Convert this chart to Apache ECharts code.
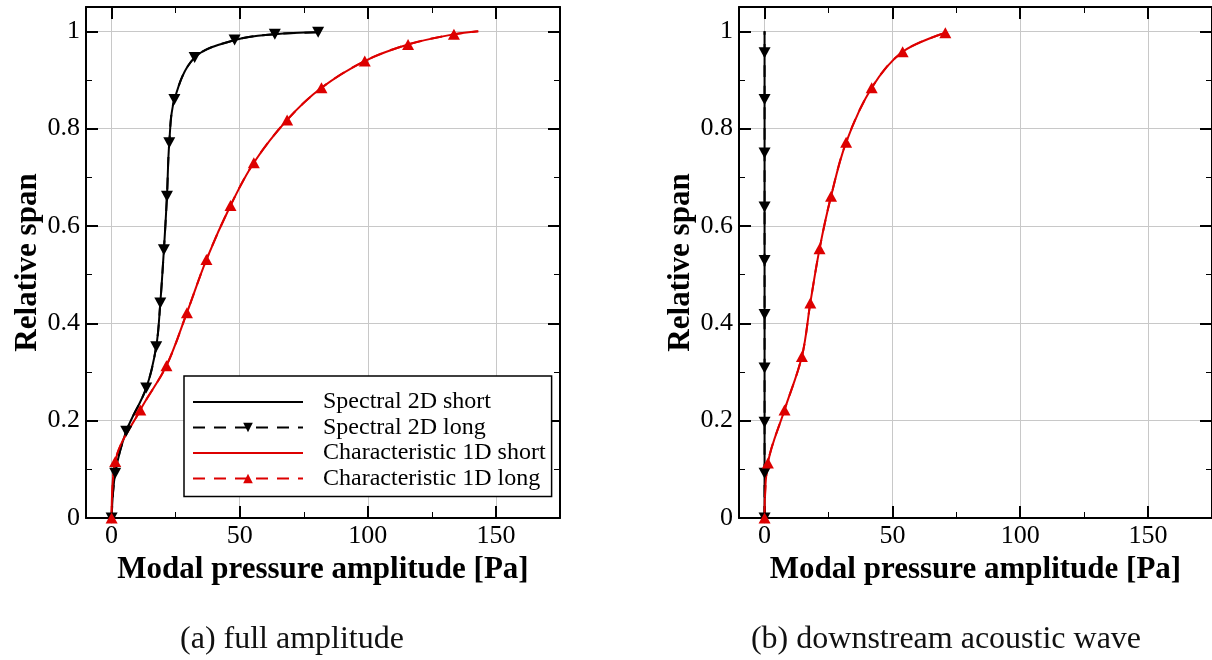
<!DOCTYPE html>
<html>
<head>
<meta charset="utf-8">
<script src="https://cdn.jsdelivr.net/npm/echarts@6/dist/echarts.min.js"></script>
<style>
html,body{margin:0;padding:0;background:#fff;}
#chart{width:1212px;height:660px;}
</style>
</head>
<body>
<div id="chart"></div>
<script>
// ---------- data ----------
const seriesNames = ['Spectral 2D short', 'Spectral 2D long', 'Characteristic 1D short', 'Characteristic 1D long'];
const captions = ['(a) full amplitude', '(b) downstream acoustic wave'];
const xAxisTitle = 'Modal pressure amplitude [Pa]';
const yAxisTitle = 'Relative span';

const xMajorTicks = [0, 50, 100, 150];
const xMinorTicks = [25, 75, 125];
const yMajorTicks = [0, 0.2, 0.4, 0.6, 0.8, 1];
const yMinorTicks = [0.1, 0.3, 0.5, 0.7, 0.9];

// (a) full amplitude
const aSpectralAmp  = [0, 1.4, 5.7, 13.5, 17.4, 19.0, 20.4, 21.6, 22.5, 24.5, 32.4, 48.0, 63.7, 80.6];
const aSpectralSpan = [0, 0.092, 0.178, 0.267, 0.352, 0.442, 0.551, 0.661, 0.771, 0.860, 0.946, 0.982, 0.994, 0.998];
const aCharAmp  = [0, 1.4, 11.2, 21.4, 29.4, 37.0, 46.4, 55.5, 68.5, 81.9, 98.8, 115.7, 133.6, 143.1];
const aCharSpan = [0, 0.116, 0.222, 0.313, 0.422, 0.531, 0.642, 0.730, 0.818, 0.884, 0.939, 0.973, 0.994, 1.0];
const aCharMarkerless = [13]; // line end without marker

// (b) downstream acoustic wave
const bSpectralAmp  = [0, 0, 0, 0, 0, 0, 0, 0, 0, 0, 0];
const bSpectralSpan = [0, 0.092, 0.197, 0.308, 0.418, 0.529, 0.639, 0.750, 0.860, 0.956, 1.0];
const bSpectralMarkerless = [10];
const bCharAmp  = [0, 1.3, 7.8, 14.6, 17.9, 21.5, 26.0, 31.9, 41.9, 54.0, 70.7];
const bCharSpan = [0, 0.113, 0.222, 0.332, 0.442, 0.553, 0.661, 0.772, 0.884, 0.958, 0.997];

// ---------- helpers ----------
const SERIF = 'Liberation Serif';
const RED = '#dd0000';
const GRIDS = [{left: 86, top: 7, width: 474, height: 511}, {left: 739, top: 7, width: 474, height: 511}];
const X_MIN = -10, X_MAX = 175, Y_MIN = 0, Y_MAX = 1.05;

function pairs(xs, ys, markerless) {
  return xs.map((x, i) => (markerless && markerless.indexOf(i) >= 0) ? {value: [x, ys[i]], symbol: 'none'} : [x, ys[i]]);
}

const xAxes = [], yAxes = [];
function addAxes(g) {
  const common = {type: 'value', gridIndex: g, axisPointer: {show: false}};
  xAxes.push(Object.assign({}, common, {
    min: X_MIN, max: X_MAX, position: 'bottom',
    name: xAxisTitle, nameLocation: 'middle', nameGap: 36,
    nameTextStyle: {fontFamily: SERIF, fontWeight: 'bold', fontSize: 31, color: '#000'},
    axisLine: {show: true, onZero: false, lineStyle: {color: '#000', width: 2}},
    axisTick: {show: true, inside: true, length: 12, customValues: xMajorTicks, lineStyle: {color: '#000', width: 2}},
    axisLabel: {show: true, customValues: xMajorTicks, margin: 5, fontFamily: SERIF, fontSize: 26, color: '#000'},
    splitLine: {show: true, lineStyle: {color: '#c8c8c8', width: 1}}
  }));
  xAxes.push(Object.assign({}, common, {
    min: X_MIN, max: X_MAX, position: 'bottom',
    axisLine: {show: false, onZero: false},
    axisTick: {show: true, inside: true, length: 6, customValues: xMinorTicks, lineStyle: {color: '#000', width: 1}},
    axisLabel: {show: false}, splitLine: {show: false}
  }));
  xAxes.push(Object.assign({}, common, {
    min: X_MIN, max: X_MAX, position: 'top',
    axisLine: {show: true, onZero: false, lineStyle: {color: '#000', width: 2}},
    axisTick: {show: true, inside: true, length: 12, customValues: xMajorTicks, lineStyle: {color: '#000', width: 2}},
    axisLabel: {show: false}, splitLine: {show: false}
  }));
  xAxes.push(Object.assign({}, common, {
    min: X_MIN, max: X_MAX, position: 'top',
    axisLine: {show: false, onZero: false},
    axisTick: {show: true, inside: true, length: 6, customValues: xMinorTicks, lineStyle: {color: '#000', width: 1}},
    axisLabel: {show: false}, splitLine: {show: false}
  }));
  yAxes.push(Object.assign({}, common, {
    min: Y_MIN, max: Y_MAX, position: 'left',
    name: yAxisTitle, nameLocation: 'middle', nameGap: 39,
    nameTextStyle: {fontFamily: SERIF, fontWeight: 'bold', fontSize: 31, color: '#000'},
    axisLine: {show: true, onZero: false, lineStyle: {color: '#000', width: 2}},
    axisTick: {show: true, inside: true, length: 12, customValues: yMajorTicks, lineStyle: {color: '#000', width: 2}},
    axisLabel: {show: true, customValues: yMajorTicks, margin: 6, fontFamily: SERIF, fontSize: 26, color: '#000', padding: [5, 0, 0, 0]},
    splitLine: {show: true, lineStyle: {color: '#c8c8c8', width: 1}}
  }));
  yAxes.push(Object.assign({}, common, {
    min: Y_MIN, max: Y_MAX, position: 'left',
    axisLine: {show: false, onZero: false},
    axisTick: {show: true, inside: true, length: 6, customValues: yMinorTicks, lineStyle: {color: '#000', width: 1}},
    axisLabel: {show: false}, splitLine: {show: false}
  }));
  yAxes.push(Object.assign({}, common, {
    min: Y_MIN, max: Y_MAX, position: 'right',
    axisLine: {show: true, onZero: false, lineStyle: {color: '#000', width: 2}},
    axisTick: {show: true, inside: true, length: 12, customValues: yMajorTicks, lineStyle: {color: '#000', width: 2}},
    axisLabel: {show: false}, splitLine: {show: false}
  }));
  yAxes.push(Object.assign({}, common, {
    min: Y_MIN, max: Y_MAX, position: 'right',
    axisLine: {show: false, onZero: false},
    axisTick: {show: true, inside: true, length: 6, customValues: yMinorTicks, lineStyle: {color: '#000', width: 1}},
    axisLabel: {show: false}, splitLine: {show: false}
  }));
}
addAxes(0);
addAxes(1);

function lineSeries(name, g, data, color, withMarkers, down) {
  const s = {
    name: name, type: 'line', xAxisIndex: g * 4, yAxisIndex: g * 4,
    data: data, smooth: 0.35, clip: false,
    lineStyle: {color: color, width: 2, type: withMarkers ? [12, 9] : 'solid'},
    itemStyle: {color: color},
    emphasis: {disabled: true},
    z: withMarkers ? 4 : 3
  };
  if (withMarkers) {
    s.symbol = 'triangle';
    s.symbolSize = [12, 11];
    s.symbolRotate = down ? 180 : 0;
    s.showSymbol = true;
  } else {
    s.symbol = 'none';
    s.showSymbol = false;
  }
  return s;
}

const aSpec = pairs(aSpectralAmp, aSpectralSpan);
const aChar = pairs(aCharAmp, aCharSpan, aCharMarkerless);
const bSpec = pairs(bSpectralAmp, bSpectralSpan, bSpectralMarkerless);
const bChar = pairs(bCharAmp, bCharSpan);

const series = [
  lineSeries(seriesNames[0], 0, aSpec, '#000', false),
  lineSeries(seriesNames[2], 0, aChar, RED, false),
  lineSeries(seriesNames[1], 0, aSpec, '#000', true, true),
  lineSeries(seriesNames[3], 0, aChar, RED, true, false),
  lineSeries(seriesNames[0], 1, bSpec, '#000', false),
  lineSeries(seriesNames[2], 1, bChar, RED, false),
  lineSeries(seriesNames[1], 1, bSpec, '#000', true, true),
  lineSeries(seriesNames[3], 1, bChar, RED, true, false)
];

const hiddenSymbol = {color: 'rgba(0,0,0,0)', borderColor: 'rgba(0,0,0,0)', borderWidth: 0, opacity: 0};

const option = {
  animation: false,
  backgroundColor: '#fff',
  grid: GRIDS.map(g => Object.assign({containLabel: false}, g)),
  xAxis: xAxes,
  yAxis: yAxes,
  title: [
    {text: captions[0], left: 287, top: 619, textAlign: 'center',
     textStyle: {fontFamily: SERIF, fontWeight: 'normal', fontSize: 32, color: '#111'}},
    {text: captions[1], left: 941, top: 619, textAlign: 'center',
     textStyle: {fontFamily: SERIF, fontWeight: 'normal', fontSize: 32, color: '#111'}}
  ],
  legend: {
    data: [
      {name: seriesNames[0], itemStyle: hiddenSymbol},
      {name: seriesNames[1]},
      {name: seriesNames[2], itemStyle: hiddenSymbol},
      {name: seriesNames[3]}
    ],
    orient: 'vertical',
    left: 184, top: 376,
    itemWidth: 110, itemHeight: 12, itemGap: 1.5,
    padding: [14, 6, 6, 8],
    borderColor: '#000', borderWidth: 1.5,
    backgroundColor: '#fff',
    selectedMode: false,
    textStyle: {fontFamily: SERIF, fontSize: 24, color: '#000', padding: [0, 0, 0, 15], lineHeight: 24}
  },
  series: series
};

const chart = echarts.init(document.getElementById('chart'), null, {renderer: 'canvas'});
chart.setOption(option);
</script>
</body>
</html>
